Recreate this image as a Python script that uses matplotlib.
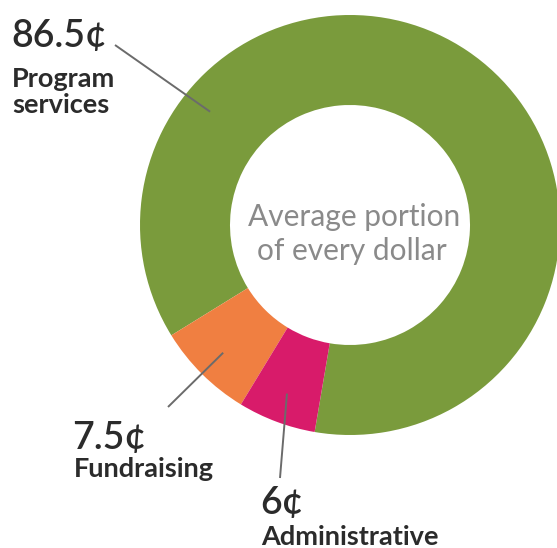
import numpy as np
import matplotlib
matplotlib.use("Agg")
import matplotlib.pyplot as plt

# ---- data ----
categories = ["Program\nservices", "Fundraising", "Administrative"]
values = [86.5, 7.5, 6.0]
value_labels = ["86.5¢", "7.5¢", "6¢"]
center_text = "Average portion\nof every dollar"

# ---- style / layout ----
colors = ["#7A9B3C", "#F07F41", "#D81B6A"]
W, H = 557, 548
fig = plt.figure(figsize=(W / 100, H / 100), dpi=100)
ax = fig.add_axes([0, 0, 1, 1])

def py(y):  # pixel-from-top -> data y
    return H - y

cx, cy = 350, py(225)
R_out, R_in = 210, 120

wedges, _ = ax.pie(values, colors=colors, startangle=-99.7, counterclock=True,
                   radius=R_out, center=(cx, cy),
                   wedgeprops=dict(width=R_out - R_in, linewidth=0))
ax.set_xlim(0, W)
ax.set_ylim(0, H)
ax.set_aspect("equal")
ax.axis("off")

family = ["Lato", "DejaVu Sans"]
dark = "#2b2b2b"
line_c = "#6b6b6b"

def mid_angle(w):
    return np.deg2rad((w.theta1 + w.theta2) / 2)

anchor_angles = [np.deg2rad(141.0), mid_angle(wedges[1]), mid_angle(wedges[2])]
r_anchor = 180
outer_ends = [(115, py(45)), (168, py(407)), (280, py(478))]
for ang, (ex, ey) in zip(anchor_angles, outer_ends):
    ax.plot([cx + r_anchor * np.cos(ang), ex], [cy + r_anchor * np.sin(ang), ey],
            color=line_c, lw=1.4, solid_capstyle="butt")

# value labels & category labels (baseline of last line)
num_pos = [(11, py(47)), (72, py(449)), (260, py(514))]
cat_pos = [(12, py(113)), (74, py(477)), (261, py(545))]
for vl, cat, (nx, ny), (tx, ty) in zip(value_labels, categories, num_pos, cat_pos):
    ax.text(nx, ny, vl, fontsize=27, family=family, weight="semibold", color=dark,
            ha="left", va="baseline")
    ax.text(tx, ty, cat, fontsize=19.5, family=family, weight="bold", color=dark,
            ha="left", va="baseline", linespacing=1.12)

ax.text(354, py(226), center_text.split("\n")[0], fontsize=21.5, family=family,
        color="#8a8a8a", ha="center", va="baseline")
ax.text(352, py(260), center_text.split("\n")[1], fontsize=21.5, family=family,
        color="#8a8a8a", ha="center", va="baseline")

fig.savefig("out.png", dpi=100)
